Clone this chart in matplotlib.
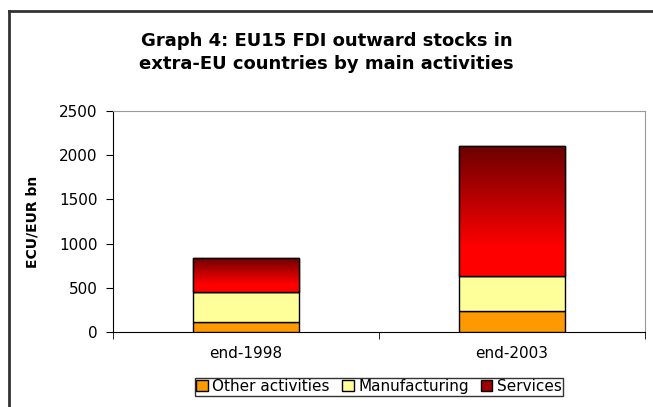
import numpy as np
import matplotlib
matplotlib.use('Agg')
import matplotlib.pyplot as plt
from matplotlib.lines import Line2D
from matplotlib.colors import LinearSegmentedColormap

plt.rcParams['font.family'] = ['DejaVu Sans']

periods = ['end-1998', 'end-2003']
other = [109, 237]
manufacturing = [339, 398]
services = [384, 1468]

fig = plt.figure(figsize=(6.53, 4.07), dpi=100)
ax = fig.add_axes([0.173, 0.184, 0.815, 0.544])

x = np.arange(len(periods))
w = 0.4
b1 = ax.bar(x, other, w, color='#ff9900', edgecolor='black', linewidth=1,
            label='Other activities', zorder=3)
b2 = ax.bar(x, manufacturing, w, bottom=other, color='#ffff99', edgecolor='black',
            linewidth=1, label='Manufacturing', zorder=3)
bottom3 = np.array(other) + np.array(manufacturing)
b3 = ax.bar(x, services, w, bottom=bottom3, color='#a00000', edgecolor='black',
            linewidth=1, label='Services', zorder=3)

# gradient fill for services (dark red at top -> red lower down)
cmap = LinearSegmentedColormap.from_list('svc', [(0, '#ff0000'), (0.22, '#ff0000'), (1, '#6a0000')])
grad = np.linspace(0, 1, 256).reshape(-1, 1)
for bar in b3:
    x0, y0 = bar.get_x(), bar.get_y()
    x1, y1 = x0 + bar.get_width(), y0 + bar.get_height()
    im = ax.imshow(grad, cmap=cmap, origin='lower', extent=[x0, x1, y0, y1],
                   aspect='auto', zorder=3.5, interpolation='bilinear')
    im.set_clip_path(bar)
    ax.add_patch(plt.Rectangle((x0, y0), x1 - x0, y1 - y0, fill=False,
                               edgecolor='black', linewidth=1, zorder=4))

ax.set_xlim(-0.5, 1.5)
ax.set_ylim(0, 2500)
ax.set_yticks(range(0, 2501, 500))
ax.set_xticks(x)
ax.set_xticklabels(periods)
ax.set_xticks([-0.5, 0.5, 1.5], minor=True)
ax.tick_params(axis='x', which='major', length=0, labelsize=11, pad=10)
ax.tick_params(axis='x', which='minor', length=5, direction='out')
ax.tick_params(axis='y', labelsize=11, length=5, direction='out', pad=6)
ax.set_ylabel('ECU/EUR bn', fontsize=10, fontweight='bold', labelpad=14)

for s in ['top', 'right']:
    ax.spines[s].set_color('#999999')
for s in ['left', 'bottom']:
    ax.spines[s].set_color('black')

fig.text(0.5, 0.87, 'Graph 4: EU15 FDI outward stocks in\nextra-EU countries by main activities',
         ha='center', va='center', fontsize=13, fontweight='bold', linespacing=1.35)

leg = ax.legend(loc='upper center', bbox_to_anchor=(0.5, -0.205), ncol=3, fontsize=11,
                frameon=True, fancybox=False, edgecolor='black', handlelength=0.75,
                handleheight=0.75, handletextpad=0.3, columnspacing=0.8,
                borderpad=0.1, borderaxespad=0)
leg.get_frame().set_linewidth(1)

# outer chart border (left and top visible)
fig.add_artist(Line2D([8.5 / 653, 8.5 / 653], [0, 1 - 11 / 407], transform=fig.transFigure,
                      color='#333333', linewidth=2))
fig.add_artist(Line2D([8.5 / 653, 1], [1 - 11 / 407, 1 - 11 / 407], transform=fig.transFigure,
                      color='#333333', linewidth=2))

fig.savefig('out.png', dpi=100)
